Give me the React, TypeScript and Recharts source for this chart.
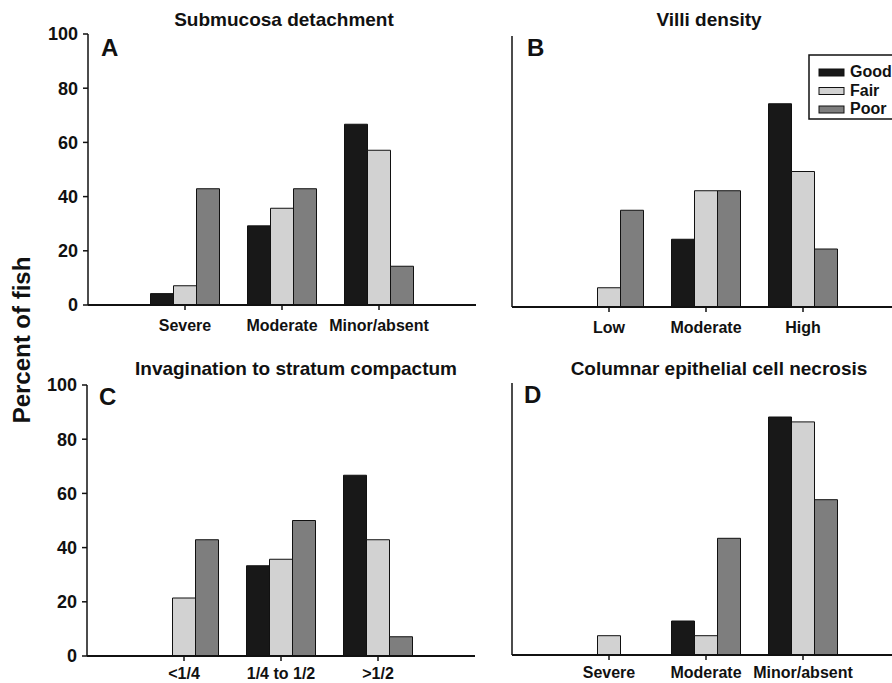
import React from 'react';
import { BarChart, Bar, XAxis, YAxis } from 'recharts';

// series names and fills
const seriesNames = ['Good', 'Fair', 'Poor'];
const seriesFills = ['#181818', '#d2d2d2', '#7e7e7e'];
const yTicks = [0, 20, 40, 60, 80, 100];

// A: Submucosa detachment
const submucosaCategories = ['Severe', 'Moderate', 'Minor/absent'];
const submucosaGood = [4.2, 29.2, 66.7];
const submucosaFair = [7.1, 35.7, 57.1];
const submucosaPoor = [42.9, 42.9, 14.3];

// B: Villi density
const villiCategories = ['Low', 'Moderate', 'High'];
const villiGood = [0, 25, 75];
const villiFair = [7.1, 42.9, 50];
const villiPoor = [35.7, 42.9, 21.4];

// C: Invagination to stratum compactum
const invaginationCategories = ['<1/4', '1/4 to 1/2', '>1/2'];
const invaginationGood = [0, 33.3, 66.7];
const invaginationFair = [21.4, 35.7, 42.9];
const invaginationPoor = [42.9, 50, 7.1];

// D: Columnar epithelial cell necrosis
const necrosisCategories = ['Severe', 'Moderate', 'Minor/absent'];
const necrosisGood = [0, 12.5, 87.5];
const necrosisFair = [7.1, 7.1, 85.7];
const necrosisPoor = [0, 42.9, 57.1];

const FONT = '"Liberation Sans", Arial, Helvetica, sans-serif';

const buildRows = (cats: string[], good: number[], fair: number[], poor: number[]) =>
  cats.map((c, i) => ({ category: c, Good: good[i], Fair: fair[i], Poor: poor[i] }));

interface PanelProps {
  rows: { category: string; Good: number; Fair: number; Poor: number }[];
  left: number;
  top: number;
  width: number;
  height: number;
  margin: { top: number; right: number; bottom: number; left: number };
  xAxisHeight: number;
  xTickMargin: number;
  showYLabels: boolean;
}

const Panel: React.FC<PanelProps> = ({ rows, left, top, width, height, margin, xAxisHeight, xTickMargin, showYLabels }) => (
  <div style={{ position: 'absolute', left, top }}>
    <BarChart width={width} height={height} data={rows} margin={margin} barCategoryGap={14} barGap={0}>
      <XAxis
        dataKey="category"
        height={xAxisHeight}
        padding={{ left: 48.5, right: 48.5 }}
        axisLine={{ stroke: '#111', strokeWidth: 2 }}
        tickLine={{ stroke: '#111', strokeWidth: 1.5 }}
        tickSize={5}
        tickMargin={xTickMargin}
        interval={0}
        tick={{ fill: '#111', fontSize: 16, fontWeight: 'bold', fontFamily: FONT }}
      />
      <YAxis
        width={60}
        domain={[0, 100]}
        ticks={yTicks}
        axisLine={{ stroke: '#111', strokeWidth: 1.5 }}
        tickLine={{ stroke: '#111', strokeWidth: 1.5 }}
        tickSize={5}
        tickMargin={5}
        tick={showYLabels ? { fill: '#111', fontSize: 18, fontWeight: 'bold', fontFamily: FONT } : false}
      />
      {seriesNames.map((name, i) => (
        <Bar
          key={name}
          dataKey={name}
          fill={seriesFills[i]}
          stroke="#111"
          strokeWidth={1}
          isAnimationActive={false}
        />
      ))}
    </BarChart>
  </div>
);

const titleStyle = { fontFamily: FONT, fontWeight: 'bold' as const, fontSize: 19, fill: '#111' };
const letterStyle = { fontFamily: FONT, fontWeight: 'bold' as const, fontSize: 24, fill: '#111' };

export default function App() {
  return (
    <div style={{ position: 'absolute', left: 0, top: 0, width: 892, height: 683, overflow: 'hidden', background: '#fff' }}>
      <Panel
        rows={buildRows(submucosaCategories, submucosaGood, submucosaFair, submucosaPoor)}
        left={0} top={0} width={480} height={340}
        margin={{ top: 34, right: 4, bottom: 0, left: 28 }}
        xAxisHeight={35}
        xTickMargin={10}
        showYLabels
      />
      <Panel
        rows={buildRows(villiCategories, villiGood, villiFair, villiPoor)}
        left={450} top={0} width={455} height={340}
        margin={{ top: 36, right: 5, bottom: 0, left: 2 }}
        xAxisHeight={33}
        xTickMargin={10}
        showYLabels={false}
      />
      <Panel
        rows={buildRows(invaginationCategories, invaginationGood, invaginationFair, invaginationPoor)}
        left={0} top={340} width={480} height={343}
        margin={{ top: 45, right: 5, bottom: 0, left: 27 }}
        xAxisHeight={27}
        xTickMargin={7}
        showYLabels
      />
      <Panel
        rows={buildRows(necrosisCategories, necrosisGood, necrosisFair, necrosisPoor)}
        left={450} top={340} width={455} height={343}
        margin={{ top: 43, right: 5, bottom: 0, left: 2 }}
        xAxisHeight={28}
        xTickMargin={7}
        showYLabels={false}
      />

      <svg width={892} height={683} style={{ position: 'absolute', left: 0, top: 0, pointerEvents: 'none' }}>
        <text x={284} y={26} textAnchor="middle" style={titleStyle}>Submucosa detachment</text>
        <text x={709} y={26} textAnchor="middle" style={titleStyle}>Villi density</text>
        <text x={296} y={375} textAnchor="middle" style={titleStyle}>Invagination to stratum compactum</text>
        <text x={719} y={375} textAnchor="middle" style={titleStyle}>Columnar epithelial cell necrosis</text>

        <text x={101} y={56} style={letterStyle}>A</text>
        <text x={527} y={56} style={letterStyle}>B</text>
        <text x={99} y={405} style={letterStyle}>C</text>
        <text x={524} y={403} style={letterStyle}>D</text>

        <text
          x={30}
          y={340}
          textAnchor="middle"
          transform="rotate(-90, 30, 340)"
          style={{ fontFamily: FONT, fontWeight: 'bold', fontSize: 24, fill: '#111' }}
        >
          Percent of fish
        </text>

        <rect x={809} y={55} width={100} height={64} fill="#fff" stroke="#111" strokeWidth={1.5} />
        {seriesNames.map((name, i) => (
          <g key={name}>
            <rect x={819} y={69 + i * 18.5} width={25} height={7} fill={seriesFills[i]} stroke="#111" strokeWidth={1} />
            <text x={850} y={77 + i * 18.5} style={{ fontFamily: FONT, fontWeight: 'bold', fontSize: 16, fill: '#111' }}>
              {name}
            </text>
          </g>
        ))}
      </svg>
    </div>
  );
}
